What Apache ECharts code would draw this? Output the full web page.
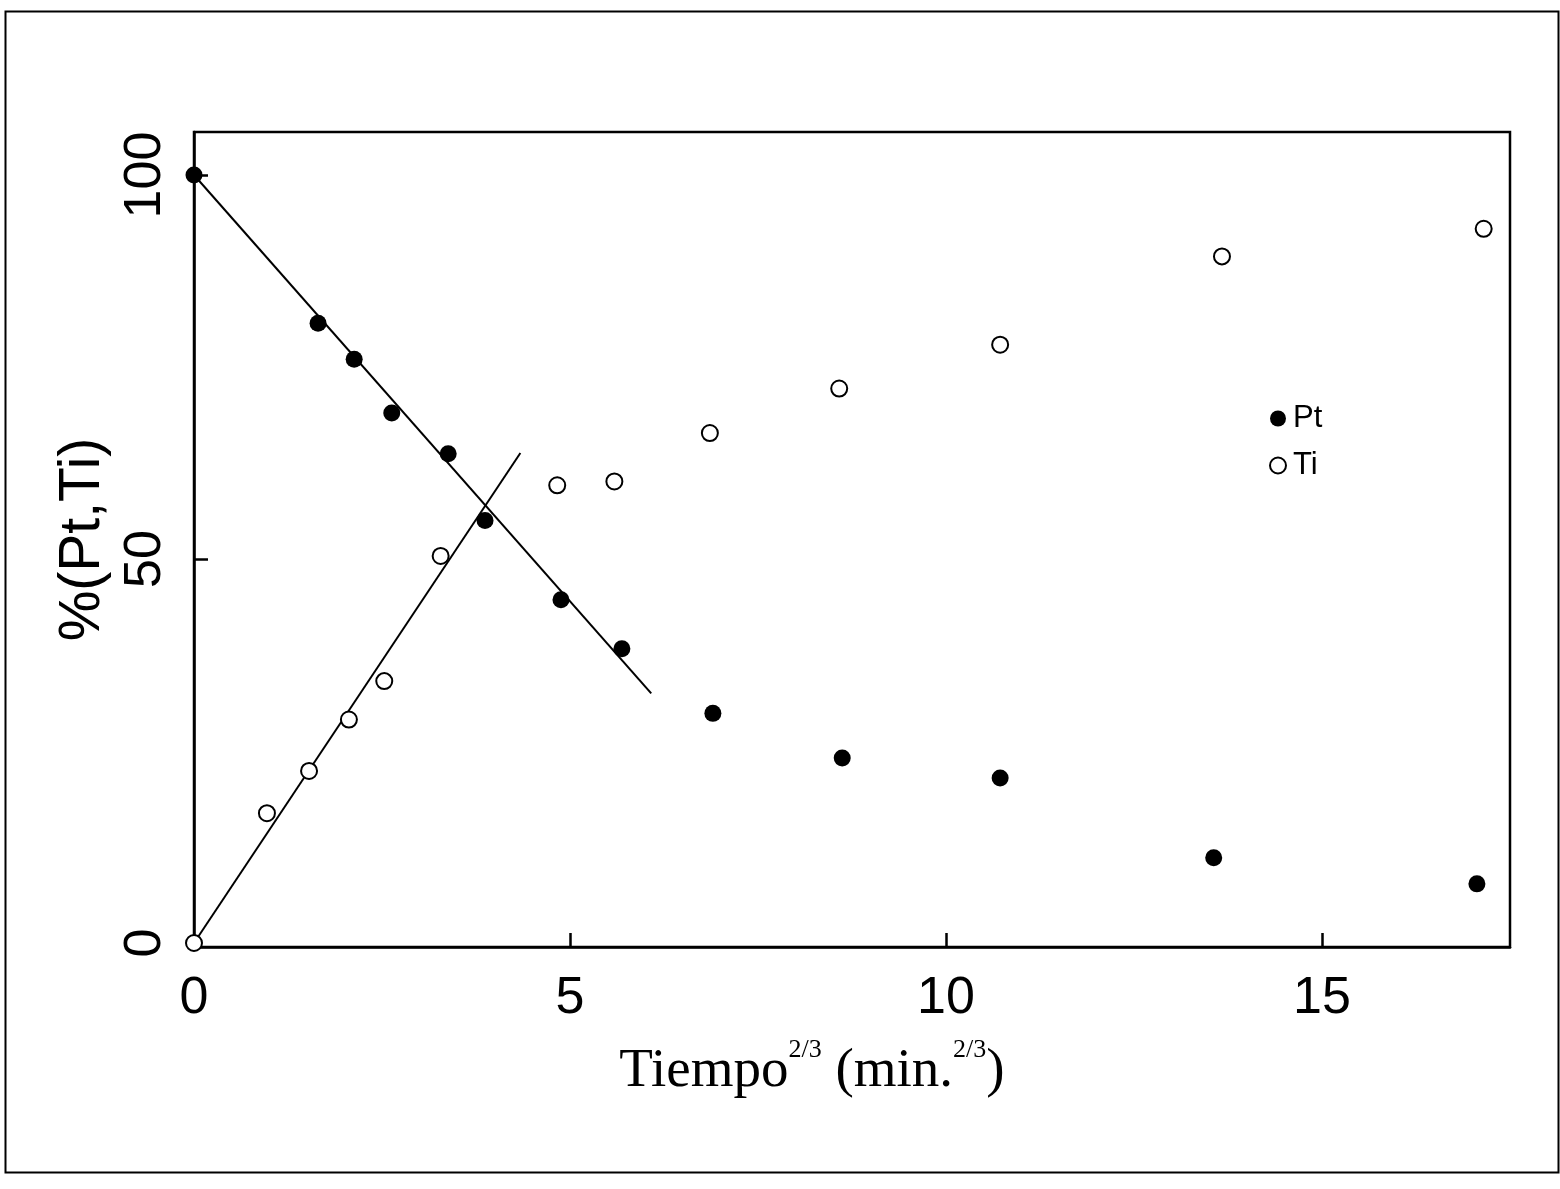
<!DOCTYPE html>
<html>
<head>
<meta charset="utf-8">
<script src="https://cdn.jsdelivr.net/npm/echarts@6/dist/echarts.min.js"></script>
<style>
html,body{margin:0;padding:0;background:#fff;}
#chart{width:1560px;height:1189px;}
</style>
</head>
<body>
<div id="chart"></div>
<script>
// Pt (filled circles)
var ptX = [0.0, 1.65, 2.13, 2.63, 3.38, 3.87, 4.88, 5.69, 6.90, 8.62, 10.72, 13.56, 17.06];
var ptY = [100, 80.7, 76.0, 69.0, 63.7, 55.0, 44.7, 38.3, 29.9, 24.1, 21.5, 11.1, 7.7];
// Ti (open circles)
var tiX = [0.0, 0.97, 1.53, 2.06, 2.53, 3.28, 4.83, 5.59, 6.86, 8.58, 10.72, 13.67, 17.15];
var tiY = [0, 16.9, 22.4, 29.1, 34.1, 50.4, 59.6, 60.1, 66.4, 72.2, 77.9, 89.4, 93.0];
// fitted straight lines
var ptFitX = [0, 6.08];
var ptFitY = [100, 32.5];
var tiFitX = [0, 4.34];
var tiFitY = [0, 63.8];
// ticks
var xTickLabels = [0, 5, 10, 15];
var xTicks = [5, 10, 15];
var yTickLabels = [0, 50, 100];
var yTicks = [50, 100];

function pairs(xs, ys){ return xs.map(function(x,i){ return [x, ys[i]]; }); }

var chart = echarts.init(document.getElementById('chart'), null, {renderer:'canvas'});
var sans = 'Liberation Sans, Arial, sans-serif';
var serif = 'Liberation Serif, Times New Roman, serif';
chart.setOption({
  backgroundColor: '#ffffff',
  animation: false,
  grid: {left: 194, right: 50, top: 132, bottom: 242, show: true, borderColor: '#000', borderWidth: 2.5, backgroundColor: 'transparent'},
  graphic: [{
    type: 'rect', left: 3, top: 9, silent: true,
    shape: {width: 1553, height: 1161},
    style: {fill: 'none', stroke: '#000', lineWidth: 2}
  }],
  legend: {
    orient: 'vertical', left: 1264, top: 398, itemGap: 16,
    itemWidth: 16, itemHeight: 16,
    data: ['Pt', 'Ti'],
    textStyle: {fontFamily: sans, fontSize: 31, color: '#000', padding: [0,0,0,2]}
  },
  xAxis: {
    type: 'value', min: 0, max: 17.5,
    name: '{a|Tiempo}{s|2/3}{a| (min.}{s|2/3}{a|)}',
    nameLocation: 'middle', nameGap: 90,
    nameTextStyle: {
      padding: [0, 80, 0, 0],
      rich: {
        a: {fontFamily: serif, fontSize: 55, color: '#000', verticalAlign: 'bottom', lineHeight: 62},
        s: {fontFamily: serif, fontSize: 26, color: '#000', verticalAlign: 'top', padding: [0,0,26,0], lineHeight: 62}
      }
    },
    splitLine: {show: false},
    axisLine: {show: true, onZero: false, lineStyle: {color: '#000', width: 2.5}},
    axisTick: {show: true, inside: true, length: 14, lineStyle: {color: '#000', width: 2.5}, customValues: xTicks},
    axisLabel: {customValues: xTickLabels, margin: 26, fontFamily: sans, fontSize: 52, color: '#000'}
  },
  yAxis: {
    type: 'value', min: -0.52, max: 105.6,
    name: '%(Pt,Ti)', nameLocation: 'middle', nameGap: 66, nameRotate: 90,
    nameTextStyle: {fontFamily: sans, fontSize: 57, color: '#000'},
    splitLine: {show: false},
    axisLine: {show: true, onZero: false, lineStyle: {color: '#000', width: 2.5}},
    axisTick: {show: true, inside: true, length: 14, lineStyle: {color: '#000', width: 2.5}, customValues: yTicks},
    axisLabel: {customValues: yTickLabels, rotate: 90, margin: 22, fontFamily: sans, fontSize: 52, color: '#000'}
  },
  series: [
    {
      name: 'Pt fit', type: 'line', data: pairs(ptFitX, ptFitY), symbol: 'none',
      lineStyle: {color: '#000', width: 2}, silent: true, z: 2
    },
    {
      name: 'Ti fit', type: 'line', data: pairs(tiFitX, tiFitY), symbol: 'none',
      lineStyle: {color: '#000', width: 2}, silent: true, z: 2
    },
    {
      name: 'Pt', type: 'scatter', data: pairs(ptX, ptY), symbol: 'circle', symbolSize: 17,
      itemStyle: {color: '#000', opacity: 1}, z: 3
    },
    {
      name: 'Ti', type: 'scatter', data: pairs(tiX, tiY), symbol: 'circle', symbolSize: 16,
      itemStyle: {color: '#fff', borderColor: '#000', borderWidth: 2, opacity: 1}, z: 3
    }
  ]
});
</script>
</body>
</html>
